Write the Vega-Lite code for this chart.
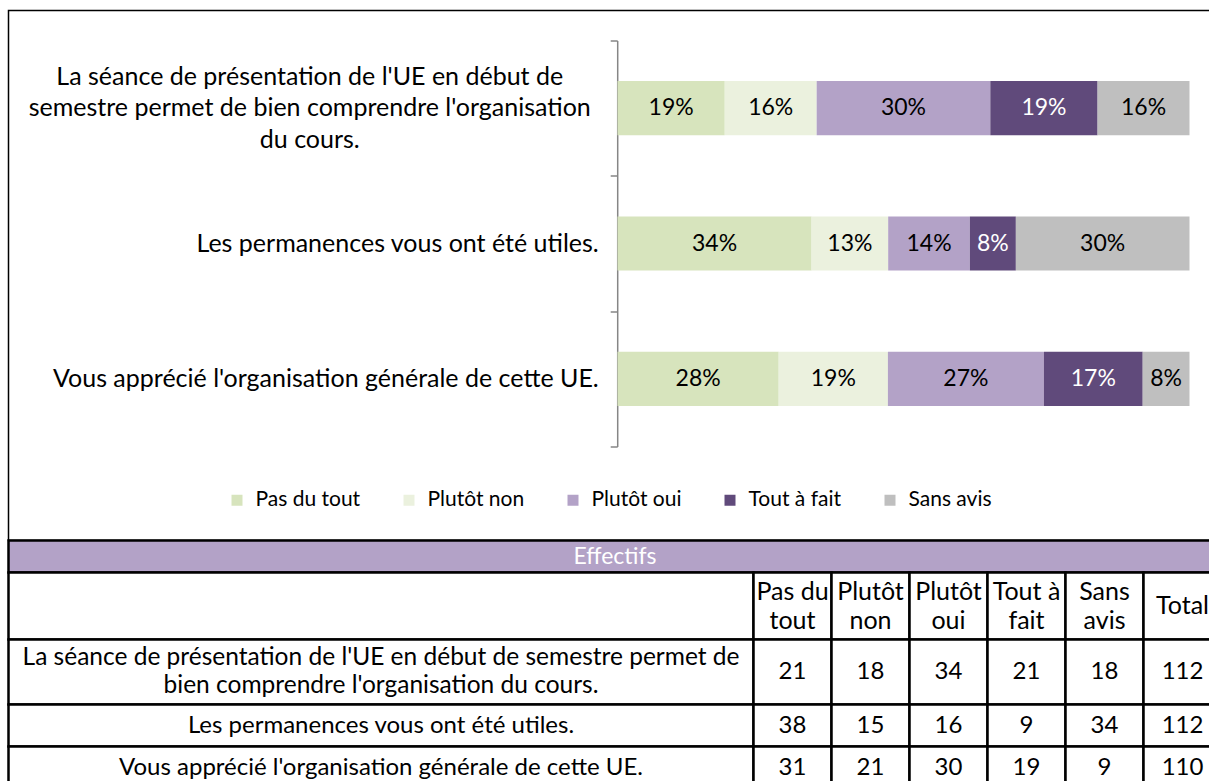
{
  "$schema": "https://vega.github.io/schema/vega-lite/v6.json",
  "autosize": {"type": "pad"},
  "padding": {"left": 6.5, "top": 9.5, "right": 0, "bottom": 0},
  "background": "white",
  "config": {"view": {"stroke": null}, "font": "Lato"},
  "datasets": {
    "survey": [
      {"question": "La séance de présentation de l'UE en début de semestre permet de bien comprendre l'organisation du cours.", "answer": "Pas du tout", "count": 21, "pct": 0.19},
      {"question": "La séance de présentation de l'UE en début de semestre permet de bien comprendre l'organisation du cours.", "answer": "Plutôt non", "count": 18, "pct": 0.16},
      {"question": "La séance de présentation de l'UE en début de semestre permet de bien comprendre l'organisation du cours.", "answer": "Plutôt oui", "count": 34, "pct": 0.30},
      {"question": "La séance de présentation de l'UE en début de semestre permet de bien comprendre l'organisation du cours.", "answer": "Tout à fait", "count": 21, "pct": 0.19},
      {"question": "La séance de présentation de l'UE en début de semestre permet de bien comprendre l'organisation du cours.", "answer": "Sans avis", "count": 18, "pct": 0.16},
      {"question": "La séance de présentation de l'UE en début de semestre permet de bien comprendre l'organisation du cours.", "answer": "Total", "count": 112},
      {"question": "Les permanences vous ont été utiles.", "answer": "Pas du tout", "count": 38, "pct": 0.34},
      {"question": "Les permanences vous ont été utiles.", "answer": "Plutôt non", "count": 15, "pct": 0.13},
      {"question": "Les permanences vous ont été utiles.", "answer": "Plutôt oui", "count": 16, "pct": 0.14},
      {"question": "Les permanences vous ont été utiles.", "answer": "Tout à fait", "count": 9, "pct": 0.08},
      {"question": "Les permanences vous ont été utiles.", "answer": "Sans avis", "count": 34, "pct": 0.30},
      {"question": "Les permanences vous ont été utiles.", "answer": "Total", "count": 112},
      {"question": "Vous apprécié l'organisation générale de cette UE.", "answer": "Pas du tout", "count": 31, "pct": 0.28},
      {"question": "Vous apprécié l'organisation générale de cette UE.", "answer": "Plutôt non", "count": 21, "pct": 0.19},
      {"question": "Vous apprécié l'organisation générale de cette UE.", "answer": "Plutôt oui", "count": 30, "pct": 0.27},
      {"question": "Vous apprécié l'organisation générale de cette UE.", "answer": "Tout à fait", "count": 19, "pct": 0.17},
      {"question": "Vous apprécié l'organisation générale de cette UE.", "answer": "Sans avis", "count": 9, "pct": 0.08},
      {"question": "Vous apprécié l'organisation générale de cette UE.", "answer": "Total", "count": 110}
    ]
  },
  "spacing": 0,
  "bounds": "flush",
  "resolve": {"scale": {"x": "independent", "y": "independent", "color": "independent"}},
  "vconcat": [
    {
      "width": 1212,
      "height": 530,
      "view": {"stroke": "#000000", "strokeWidth": 1.5},
      "data": {"name": "survey"},
      "transform": [
        {"filter": "datum.answer != 'Total'"},
        {"calculate": "indexof(['Pas du tout','Plutôt non','Plutôt oui','Tout à fait','Sans avis'], datum.answer)", "as": "ord"}
      ],
      "encoding": {
        "y": {
          "field": "question",
          "type": "nominal",
          "sort": ["La séance de présentation de l'UE en début de semestre permet de bien comprendre l'organisation du cours.", "Les permanences vous ont été utiles.", "Vous apprécié l'organisation générale de cette UE."],
          "scale": {"range": [30, 436], "paddingInner": 0, "paddingOuter": 0},
          "axis": {
            "title": null,
            "orient": "left",
            "offset": -608.7,
            "tickBand": "extent",
            "tickSize": 7,
            "tickColor": "#868686",
            "tickWidth": 1.5,
            "domainColor": "#868686",
            "domainWidth": 1.5,
            "labels": false
          }
        },
        "order": {"field": "ord", "type": "quantitative"}
      },
      "layer": [
        {
          "mark": {"type": "bar", "height": {"band": 0.4}},
          "encoding": {
            "x": {"field": "count", "type": "quantitative", "stack": "normalize", "scale": {"domain": [0, 1], "range": [609, 1181]}, "axis": null},
            "color": {
              "field": "answer",
              "type": "nominal",
              "scale": {"domain": ["Pas du tout", "Plutôt non", "Plutôt oui", "Tout à fait", "Sans avis"], "range": ["#D7E4BD", "#EBF1DE", "#B3A2C7", "#604A7B", "#BFBFBF"]},
              "legend": {
                "orient": "none",
                "legendX": 218,
                "legendY": 479,
                "direction": "horizontal",
                "title": null,
                "symbolType": "square",
                "symbolSize": 121,
                "symbolStrokeWidth": 0,
                "labelFont": "Lato",
                "labelFontSize": 21,
                "labelColor": "#000000",
                "labelOffset": 8,
                "columnPadding": 38,
                "labelLimit": 300
              }
            }
          }
        },
        {
          "mark": {"type": "text", "font": "Lato", "fontSize": 23, "baseline": "middle"},
          "encoding": {
            "x": {"field": "count", "type": "quantitative", "stack": "normalize", "bandPosition": 0.5},
            "detail": {"field": "answer"},
            "text": {"field": "pct", "type": "quantitative", "format": ".0%"},
            "color": {"condition": {"test": "datum.answer == 'Tout à fait'", "value": "#FFFFFF"}, "value": "#000000"}
          }
        },
        {
          "transform": [{"filter": "datum.answer == 'Pas du tout' && indexof(datum.question, 'séance') >= 0"}],
          "mark": {"type": "text", "font": "Lato", "fontSize": 25, "baseline": "middle", "align": "center", "lineHeight": 31.5, "dy": -31.5, "color": "#000000",
            "text": {"expr": "[\"La séance de présentation de l'UE en début de\", \"semestre permet de bien comprendre l'organisation\", \"du cours.\"]"}},
          "encoding": {"x": {"datum": -0.538, "type": "quantitative"}}
        },
        {
          "transform": [{"filter": "datum.answer == 'Pas du tout' && indexof(datum.question, 'séance') < 0"}],
          "mark": {"type": "text", "font": "Lato", "fontSize": 25, "baseline": "middle", "align": "right", "color": "#000000"},
          "encoding": {"x": {"datum": -0.0328, "type": "quantitative"}, "text": {"field": "question", "type": "nominal"}}
        }
      ]
    },
    {
      "width": 1213,
      "height": 32,
      "view": {"fill": "#B3A2C7", "stroke": "#000000", "strokeWidth": 2.5},
      "data": {"values": [{"title": "Effectifs"}]},
      "mark": {"type": "text", "font": "Lato", "fontSize": 23, "color": "#FFFFFF", "baseline": "middle"},
      "encoding": {"text": {"field": "title", "type": "nominal"}}
    },
    {
      "width": 1213,
      "height": 67,
      "data": {"name": "survey"},
      "transform": [{"filter": "indexof(datum.question, 'séance') >= 0"}],
      "resolve": {"scale": {"x": "independent"}},
      "layer": [
        {
          "transform": [{"filter": "datum.answer == 'Total'"}],
          "mark": {"type": "rect", "fill": "#FFFFFF", "stroke": "#000000", "strokeWidth": 2.5},
          "encoding": {"x": {"datum": "label", "type": "nominal", "scale": {"range": [0, 745], "paddingInner": 0, "paddingOuter": 0}, "axis": null}}
        },
        {
          "encoding": {
            "x": {"field": "answer", "type": "nominal", "sort": ["Pas du tout", "Plutôt non", "Plutôt oui", "Tout à fait", "Sans avis", "Total"], "scale": {"range": [745, 1213], "paddingInner": 0, "paddingOuter": 0}, "axis": null}
          },
          "layer": [
            {"mark": {"type": "rect", "fill": "#FFFFFF", "stroke": "#000000", "strokeWidth": 2.5}},
            {"mark": {"type": "text", "font": "Lato", "fontSize": 25, "lineHeight": 29, "baseline": "middle", "color": "#000000",
              "dy": {"expr": "datum.answer == 'Total' ? 0 : -14.5"},
              "text": {"expr": "datum.answer == 'Total' ? 'Total' : [substring(datum.answer, 0, lastindexof(datum.answer, ' ')), substring(datum.answer, lastindexof(datum.answer, ' ') + 1)]"}}}
          ]
        }
      ]
    },
    {
      "width": 1213,
      "height": 65,
      "data": {"name": "survey"},
      "transform": [{"filter": "indexof(datum.question, 'séance') >= 0"}],
      "resolve": {"scale": {"x": "independent"}},
      "layer": [
        {
          "transform": [{"filter": "datum.answer == 'Total'"}],
          "encoding": {"x": {"datum": "label", "type": "nominal", "scale": {"range": [0, 745], "paddingInner": 0, "paddingOuter": 0}, "axis": null}},
          "layer": [
            {"mark": {"type": "rect", "fill": "#FFFFFF", "stroke": "#000000", "strokeWidth": 2.5}},
            {"mark": {"type": "text", "font": "Lato", "fontSize": 24.5, "lineHeight": 28, "dy": -14, "baseline": "middle", "color": "#000000",
              "text": {"expr": "[\"La séance de présentation de l'UE en début de semestre permet de\", \"bien comprendre l'organisation du cours.\"]"}}}
          ]
        },
        {
          "encoding": {
            "x": {"field": "answer", "type": "nominal", "sort": ["Pas du tout", "Plutôt non", "Plutôt oui", "Tout à fait", "Sans avis", "Total"], "scale": {"range": [745, 1213], "paddingInner": 0, "paddingOuter": 0}, "axis": null}
          },
          "layer": [
            {"mark": {"type": "rect", "fill": "#FFFFFF", "stroke": "#000000", "strokeWidth": 2.5}},
            {"mark": {"type": "text", "font": "Lato", "fontSize": 24, "baseline": "middle", "color": "#000000"}, "encoding": {"text": {"field": "count", "type": "quantitative"}}}
          ]
        }
      ]
    },
    {
      "width": 1213,
      "height": 84,
      "data": {"name": "survey"},
      "transform": [{"filter": "indexof(datum.question, 'séance') < 0"}],
      "resolve": {"scale": {"x": "independent"}},
      "encoding": {
        "y": {"field": "question", "type": "nominal", "sort": ["Les permanences vous ont été utiles.", "Vous apprécié l'organisation générale de cette UE."], "scale": {"paddingInner": 0, "paddingOuter": 0}, "axis": null}
      },
      "layer": [
        {
          "transform": [{"filter": "datum.answer == 'Total'"}],
          "encoding": {"x": {"datum": "label", "type": "nominal", "scale": {"range": [0, 745], "paddingInner": 0, "paddingOuter": 0}, "axis": null}},
          "layer": [
            {"mark": {"type": "rect", "fill": "#FFFFFF", "stroke": "#000000", "strokeWidth": 2.5}},
            {"mark": {"type": "text", "font": "Lato", "fontSize": 24, "baseline": "middle", "color": "#000000"}, "encoding": {"text": {"field": "question", "type": "nominal"}}}
          ]
        },
        {
          "encoding": {
            "x": {"field": "answer", "type": "nominal", "sort": ["Pas du tout", "Plutôt non", "Plutôt oui", "Tout à fait", "Sans avis", "Total"], "scale": {"range": [745, 1213], "paddingInner": 0, "paddingOuter": 0}, "axis": null}
          },
          "layer": [
            {"mark": {"type": "rect", "fill": "#FFFFFF", "stroke": "#000000", "strokeWidth": 2.5}},
            {"mark": {"type": "text", "font": "Lato", "fontSize": 24, "baseline": "middle", "color": "#000000"}, "encoding": {"text": {"field": "count", "type": "quantitative"}}}
          ]
        }
      ]
    }
  ]
}
